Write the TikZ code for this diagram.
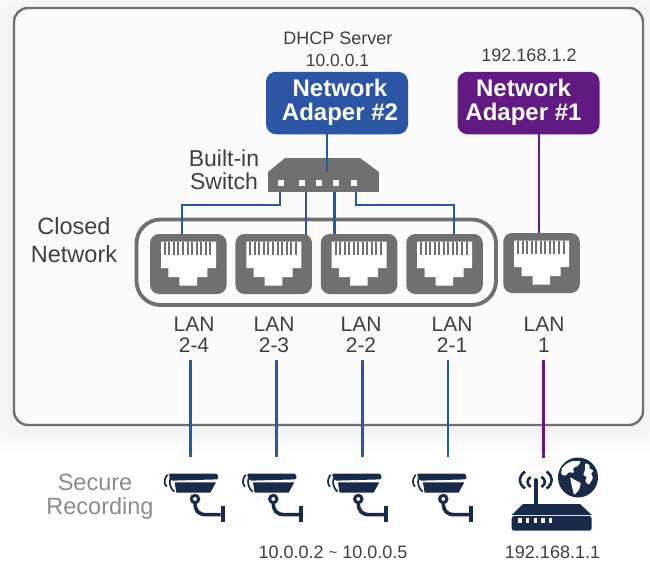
\documentclass[tikz,border=0pt]{standalone}
\usepackage{fontspec}
\setmainfont{Liberation Sans}
\usetikzlibrary{calc}
\definecolor{framegrey}{HTML}{707070}
\definecolor{panelfill}{HTML}{FBFBFB}
\definecolor{bluewire}{HTML}{2C55A4}
\definecolor{purplewire}{HTML}{621A83}
\definecolor{navy}{HTML}{1A2B49}
\definecolor{txt}{HTML}{404040}
\definecolor{softtxt}{HTML}{8C8C8C}
\newcommand{\fsz}[1]{\fontsize{#1}{#1}\selectfont}
\tikzset{
  x=1pt,y=-1pt,
  panel/.style={draw=framegrey,line width=2.4pt,fill=panelfill,rounded corners=14pt},
  ring/.style={draw=framegrey,line width=3.8pt,rounded corners=24pt},
  adapter/.style={rounded corners=10pt,minimum width=142pt,minimum height=62.5pt,inner sep=0pt},
  adaptertext/.style={inner sep=0pt,text=white,align=center,font=\bfseries\fsz{24}},
  bw/.style={draw=bluewire,line width=2.8pt},
  pw/.style={draw=purplewire,line width=2.5pt},
  pwlow/.style={draw=purplewire,line width=2.8pt},
  lab/.style={text=txt,align=center,inner sep=0pt,font=\fsz{21}},
  ip/.style={text=txt,align=center,inner sep=0pt,font=\fsz{18}},
  big/.style={text=txt,align=center,inner sep=0pt,font=\fsz{23.5}},
  portbox/.style={fill=framegrey,rounded corners=9pt,minimum width=76.5pt,minimum height=60pt,inner sep=0pt},
  rj/.pic={
    \fill[white] (-27.3,-22.3)--(27.7,-22.3)--(27.7,4)--(19,4)--(19,13)--(8.7,13)--(8.7,21.7)--(-9,21.7)--(-9,13)--(-20,13)--(-20,4)--(-27.3,4)--cycle;
    \foreach \k in {0,...,10}{\fill[framegrey] ({-24.5+\k*4.55},-22.3) rectangle ++(2,13.5);}
  },
  cam/.pic={
    \begin{scope}[x=0.3333pt,y=-0.3333pt]
    \fill[navy,rounded corners=1.5pt] (55,71)--(203,71)--(205,88)--(64,92)--cycle;
    \fill[navy] (74,97)--(198,97)--(181,128)--(79,128)--cycle;
    \draw[navy,line width=1.7pt] (52,74) .. controls (41,88) and (42,102) .. (50,110);
    \draw[navy,line width=1.7pt] (61,84) .. controls (56,100) and (62,116) .. (73,125);
    \draw[navy,line width=3pt] (135,147) circle (11);
    \draw[navy,line width=3.6pt] (135,158) .. controls (135,183) and (145,194) .. (170,194) -- (212,194);
    \fill[navy] (213,167) rectangle (224,216);
    \end{scope}
  }
}
\begin{document}
\begin{tikzpicture}
\useasboundingbox (0,0) rectangle (650,563);
\fill[white] (0,0) rectangle (650,563);
% Soft shadow round the panel
\foreach \s in {2,4,...,26}{
  \fill[black,opacity=0.0028,rounded corners=18pt] (14-\s,8-\s+3) rectangle (643+\s,425+\s+3);
}
\draw[panel] (14,8) rectangle (643,425);
\draw[ring] (136.5,219.5) rectangle (496,305);

% Ports
\node[portbox] (p24) at (188.3,264) {};
\node[portbox] (p23) at (273.7,264) {};
\node[portbox] (p22) at (359,264) {};
\node[portbox] (p21) at (444.5,264) {};
\node[portbox] (p1) at (541.5,263) {};
\foreach \p in {p24,p23,p22,p21,p1}{\pic at (\p) {rj};}

% Adapters
\node[adapter,fill=bluewire] (a2) at (337,103) {};
\node[adapter,fill=purplewire] (a1) at (528.5,103) {};
\node[adaptertext] (a2t) at (340,102.5) {Network\\[0pt]Adaper \#2};
\node[adaptertext] (a1t) at (523.5,102.5) {Network\\[0pt]Adaper \#1};

% Switch
\fill[framegrey] (268,172)--(285,158)--(360,158)--(379,172)--cycle;
\node[fill=framegrey,minimum width=111pt,minimum height=20pt,inner sep=0pt] (sw) at (323.5,182.2) {};
\foreach \n/\x in {sp1/281,sp2/302,sp3/319,sp4/336,sp5/353.7}{
  \node[fill=white,minimum size=6pt,inner sep=0pt] (\n) at (\x,183) {};
}
\coordinate (swtop) at (327,172);
\coordinate (w1) at (280,192);
\coordinate (w2) at (306,192);
\coordinate (w3) at (334.5,192);
\coordinate (w4) at (356,192);
\coordinate (d1) at (182,235);
\coordinate (d2) at (306,235);
\coordinate (d3) at (334.5,234);
\coordinate (d4) at (454,235);
\coordinate (a2b) at (327,134);
\coordinate (a1b) at (539,134);
\coordinate (p1t) at (539,233);

% Wires
\draw[bw] (swtop) -- (a2b);
\draw[bw] (w1) -- (280,205) -- (182,205) -- (d1);
\draw[bw] (w2) -- (d2);
\draw[bw] (w3) -- (d3);
\draw[bw] (w4) -- (356,205) -- (454,205) -- (d4);
\draw[pw] (a1b) -- (p1t);

% Labels
\node[ip] (dhcp) at (338,38.5) {DHCP Server};
\node[ip,font=\fsz{17.5}] (dhcpip) at (337.5,60) {10.0.0.1};
\node[ip] (ip1) at (529,55.5) {192.168.1.2};
\node[big,font=\fsz{23}] (swl) at (224,169.5) {Built-in\\Switch};
\node[big] (cl) at (74,240) {Closed\\[5pt]Network};
\node[lab] (l24) at (194,324) {LAN};
\node[lab] (n24) at (194,345) {2-4};
\node[lab] (l23) at (274,324) {LAN};
\node[lab] (n23) at (274,345) {2-3};
\node[lab] (l22) at (361,324) {LAN};
\node[lab] (n22) at (361,345) {2-2};
\node[lab] (l21) at (452,324) {LAN};
\node[lab] (n21) at (452,345) {2-1};
\node[lab] (l1) at (544,324) {LAN};
\node[lab] (n1) at (544,345) {1};
\node[big,text=softtxt] (sec) at (95,482) {Secure};
\node[big,text=softtxt] (rec) at (100,508) {Recording};
\node[ip] (range) at (333,552) {10.0.0.2 \raisebox{1pt}{\fsz{15}\textasciitilde} 10.0.0.5};
\node[ip] (gw) at (552.5,552) {192.168.1.1};

% Camera wires
\coordinate (t1) at (190.7,360);
\coordinate (t2) at (276.5,360);
\coordinate (t3) at (362.7,360);
\coordinate (t4) at (448,360);
\coordinate (t5) at (543.5,360);
\coordinate (c1) at (190.7,457);
\coordinate (c2) at (276.5,457);
\coordinate (c3) at (362.7,457);
\coordinate (c4) at (448,457);
\coordinate (c5) at (543.5,458);
\draw[bw] (t1) -- (c1);
\draw[bw] (t2) -- (c2);
\draw[bw] (t3) -- (c3);
\draw[bw] (t4) -- (c4);
\draw[pwlow] (t5) -- (c5);

% Cameras
\pic at (150,450) {cam};
\pic at (228.3,450) {cam};
\pic at (313.3,450) {cam};
\pic at (398.3,450) {cam};

% Router
\fill[navy] (511.7,515)--(523,504)--(580,504)--(591.7,515)--cycle;
\fill[navy,rounded corners=2.5pt] (511.7,516) rectangle (591.7,530.7);
\foreach \x in {520,527.7,535.3,543,550.7}{\fill[white] (\x-1.6,517.8) rectangle ++(3.2,4.9);}
\draw[navy,line width=3.8pt,line cap=round] (535.7,480) -- (535.7,504);
\draw[navy,line width=2.6pt] (530.7,477) .. controls (526.5,480) and (526.5,484) .. (530.7,487);
\draw[navy,line width=2.6pt] (541.5,476.7) .. controls (546,480) and (546,484) .. (541.5,487);
\draw[navy,line width=2.6pt] (525,471.5) .. controls (518,477) and (518,483) .. (525,488.5);
\draw[navy,line width=2.6pt] (546.7,471.5) .. controls (553.5,477) and (553.5,483) .. (546.7,488.5);
\fill[navy] (578,477.5) circle (20);
\fill[white,rounded corners=1pt] (566,464) -- (572,461) -- (581,461) -- (578,466) -- (573,468) -- (574,473) -- (569,472) -- (565,476) -- (561,474) -- (562,468) -- cycle;
\fill[white,rounded corners=1pt] (570,477) -- (575,480) -- (581,483) -- (579,490) -- (574,495) -- (572,487) -- cycle;
\fill[white,rounded corners=1pt] (585,463) -- (590,465) -- (589,468) -- (594,471) -- (591,473) -- (593,478) -- (589,485) -- (585,481) -- (587,477) -- (583,475) -- (585,470) -- cycle;
\end{tikzpicture}
\end{document}
